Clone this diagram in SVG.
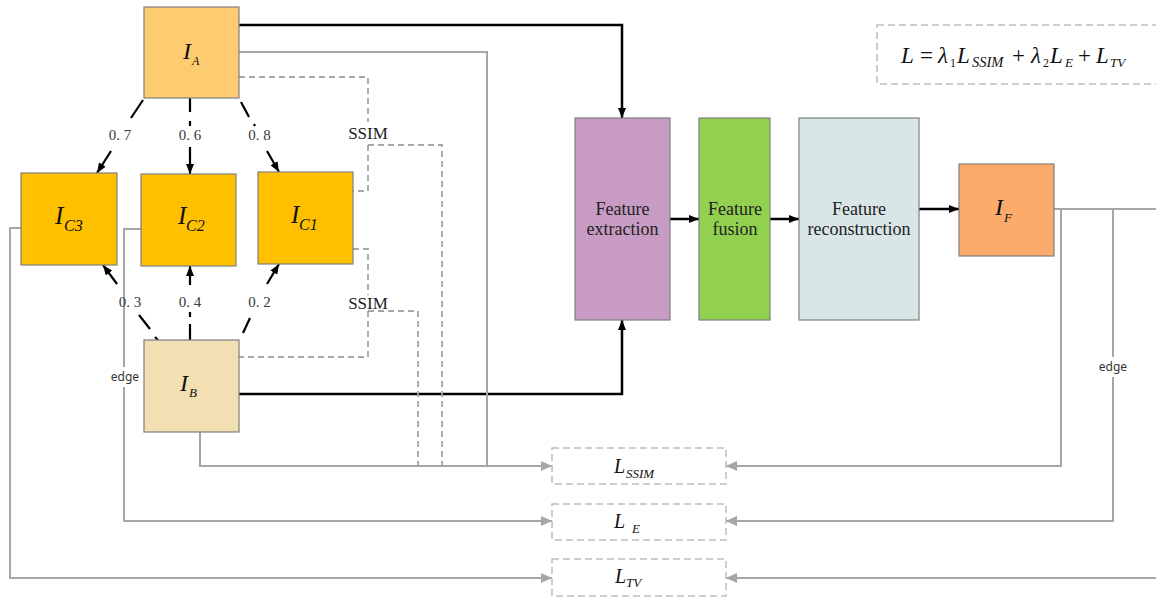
<svg xmlns="http://www.w3.org/2000/svg" width="1156" height="597" viewBox="0 0 1156 597">
  <style>
    .box { stroke: #7f7f7f; stroke-width: 1.2; }
    .blk { fill: none; stroke: #000; stroke-width: 2.5; }
    .dd { fill: none; stroke: #000; stroke-width: 2.2; }
    .gry { fill: none; stroke: #a6a6a6; stroke-width: 2; }
    .gdash { fill: none; stroke: #a6a6a6; stroke-width: 1.8; stroke-dasharray: 6 4; }
    .loss { fill: #fff; stroke: #bfbfbf; stroke-width: 1.5; stroke-dasharray: 7 4; }
    .math { font-family: "Liberation Serif", "Times New Roman", serif; font-style: italic; fill: #111; }
    .lbl { font-family: "Liberation Serif", "Times New Roman", serif; font-size: 15px; fill: #3a3a3a; text-anchor: middle; }
    .ssim { font-family: "Liberation Serif", "Times New Roman", serif; font-size: 17px; fill: #222; text-anchor: middle; }
    .edge { font-family: "Noto Sans", "Liberation Sans", sans-serif; font-size: 12px; fill: #333; text-anchor: middle; }
    .stage { font-family: "Liberation Serif", "Times New Roman", serif; font-size: 18px; fill: #222; text-anchor: middle; }
  </style>
  <defs>
    <marker id="arrBlack" viewBox="0 0 10 8" refX="10" refY="4" markerWidth="10" markerHeight="8" markerUnits="userSpaceOnUse" orient="auto">
      <path d="M0,0 L10,4 L0,8 z" fill="#000"/>
    </marker>
    <marker id="arrGray" viewBox="0 0 11 10" refX="11" refY="5" markerWidth="11" markerHeight="10" markerUnits="userSpaceOnUse" orient="auto">
      <path d="M0,0 L11,5 L0,10 z" fill="#a6a6a6"/>
    </marker>
  </defs>

  <!-- connectors -->
  <g id="connectors">
    <!-- main data path -->
    <path class="blk" d="M239,25 H622 V118" marker-end="url(#arrBlack)"/>
    <path class="blk" d="M239,394 H622 V320" marker-end="url(#arrBlack)"/>
    <path class="blk" d="M670,219 H699" marker-end="url(#arrBlack)"/>
    <path class="blk" d="M770,219 H799" marker-end="url(#arrBlack)"/>
    <path class="blk" d="M919,209 H959" marker-end="url(#arrBlack)"/>

    <!-- weighted blends from I_A -->
    <path class="dd" d="M143,100 L131,118"/>
    <path class="dd" d="M111,151 L97,173" marker-end="url(#arrBlack)"/>
    <path class="dd" d="M190,98 V112 M190,121 V126"/>
    <path class="dd" d="M190,147 V174" marker-end="url(#arrBlack)"/>
    <path class="dd" d="M241,102 L249,117 M254,124 L255,126"/>
    <path class="dd" d="M267,151 L279,172" marker-end="url(#arrBlack)"/>

    <!-- weighted blends from I_B -->
    <path class="dd" d="M139,315 L150,329 M155,337 L158,340"/>
    <path class="dd" d="M117,284 L103,265" marker-end="url(#arrBlack)"/>
    <path class="dd" d="M190,312 V317 M190,324 V340"/>
    <path class="dd" d="M190,285 V266" marker-end="url(#arrBlack)"/>
    <path class="dd" d="M250,318 L243,333"/>
    <path class="dd" d="M267,284 L279,264" marker-end="url(#arrBlack)"/>

    <!-- SSIM pairs -->
    <path class="gdash" d="M239,77 H368 V122 M368,145 V191 H353"/>
    <path class="gdash" d="M368,145 H442 V466"/>
    <path class="gdash" d="M353,249 H368 V295 M368,311 V357 H239"/>
    <path class="gdash" d="M368,311 H418 V466"/>

    <!-- loss inputs, left side -->
    <path class="gry" d="M239,52 H487 V466"/>
    <path class="gry" d="M200,432 V466 H552" marker-end="url(#arrGray)"/>
    <path class="gry" d="M141,229 H124 V367 M124,387 V521 H552" marker-end="url(#arrGray)"/>
    <path class="gry" d="M21,228 H10 V578 H552" marker-end="url(#arrGray)"/>

    <!-- loss inputs, right side -->
    <path class="gry" d="M1054,209 H1160 V578 H726" marker-end="url(#arrGray)"/>
    <path class="gry" d="M1061,209 V466 H726" marker-end="url(#arrGray)"/>
    <path class="gry" d="M1113,209 V357 M1113,377 V521 H726" marker-end="url(#arrGray)"/>

    <!-- connector labels -->
    <text class="lbl" x="120" y="140">0. 7</text>
    <text class="lbl" x="190" y="140">0. 6</text>
    <text class="lbl" x="259.5" y="140">0. 8</text>
    <text class="lbl" x="130" y="307">0. 3</text>
    <text class="lbl" x="190" y="307">0. 4</text>
    <text class="lbl" x="259.5" y="307">0. 2</text>
    <text class="ssim" x="368" y="139">SSIM</text>
    <text class="ssim" x="368" y="309">SSIM</text>
    <text class="edge" x="125" y="381">edge</text>
    <text class="edge" x="1113" y="371">edge</text>
  </g>

  <!-- source images -->
  <g id="node-IA">
    <rect class="box" x="144" y="7" width="95" height="91" fill="#fdcc70"/>
    <text class="math" x="183" y="59" font-size="24">I<tspan x="192" y="65" font-size="12">A</tspan></text>
  </g>
  <g id="node-IB">
    <rect class="box" x="144" y="340" width="95" height="92" fill="#f2dfb2"/>
    <text class="math" x="180" y="391" font-size="24">I<tspan x="189" y="397" font-size="13">B</tspan></text>
  </g>

  <!-- blended images -->
  <g id="node-IC3">
    <rect class="box" x="21" y="173" width="96" height="92" fill="#ffc000"/>
    <text class="math" x="55" y="224" font-size="25">I<tspan x="64" y="231" font-size="16">C3</tspan></text>
  </g>
  <g id="node-IC2">
    <rect class="box" x="141" y="174" width="95" height="92" fill="#ffc000"/>
    <text class="math" x="178" y="224" font-size="25">I<tspan x="186" y="231" font-size="16">C2</tspan></text>
  </g>
  <g id="node-IC1">
    <rect class="box" x="258" y="172" width="95" height="92" fill="#ffc000"/>
    <text class="math" x="291" y="223" font-size="25">I<tspan x="299" y="230" font-size="16">C1</tspan></text>
  </g>

  <!-- network stages -->
  <g id="node-extraction">
    <rect class="box" x="575" y="118" width="95" height="202" fill="#c79bc3"/>
    <text class="stage" x="622.5" y="215">Feature</text>
    <text class="stage" x="622.5" y="235">extraction</text>
  </g>
  <g id="node-fusion">
    <rect class="box" x="699" y="118" width="71" height="202" fill="#92d050"/>
    <text class="stage" x="735" y="215">Feature</text>
    <text class="stage" x="735" y="235">fusion</text>
  </g>
  <g id="node-reconstruction">
    <rect class="box" x="799" y="118" width="120" height="202" fill="#d9e6e8"/>
    <text class="stage" x="859" y="215">Feature</text>
    <text class="stage" x="859" y="235">reconstruction</text>
  </g>
  <g id="node-IF">
    <rect class="box" x="959" y="164" width="95" height="92" fill="#fdab6a"/>
    <text class="math" x="995" y="215" font-size="24">I<tspan x="1004" y="222" font-size="13">F</tspan></text>
  </g>

  <!-- loss terms -->
  <g id="node-LSSIM">
    <rect class="loss" x="552" y="448" width="174" height="36"/>
    <text class="math" x="614" y="473" font-size="20">L<tspan x="626" y="478" font-size="13">SSIM</tspan></text>
  </g>
  <g id="node-LE">
    <rect class="loss" x="552" y="504" width="174" height="36"/>
    <text class="math" x="614" y="528" font-size="20">L<tspan x="632" y="533" font-size="13">E</tspan></text>
  </g>
  <g id="node-LTV">
    <rect class="loss" x="552" y="559" width="174" height="37"/>
    <text class="math" x="615" y="583" font-size="20">L<tspan x="626" y="587" font-size="13">TV</tspan></text>
  </g>

  <!-- total loss -->
  <g id="node-total-loss">
    <rect class="loss" x="877" y="25" width="300" height="59"/>
    <text class="math" font-size="23" y="63">
      <tspan x="901">L</tspan><tspan x="920" font-style="normal">=</tspan><tspan x="938">λ</tspan><tspan x="950" y="67" font-size="12" font-style="normal">1</tspan><tspan x="957" y="63">L</tspan><tspan x="972" y="67" font-size="14.5">SSIM</tspan><tspan x="1012" y="63" font-style="normal">+</tspan><tspan x="1031">λ</tspan><tspan x="1043" y="67" font-size="12" font-style="normal">2</tspan><tspan x="1050" y="63">L</tspan><tspan x="1065" y="67" font-size="13">E</tspan><tspan x="1078" y="63" font-style="normal">+</tspan><tspan x="1096">L</tspan><tspan x="1110" y="67" font-size="13">TV</tspan>
    </text>
  </g>
</svg>
